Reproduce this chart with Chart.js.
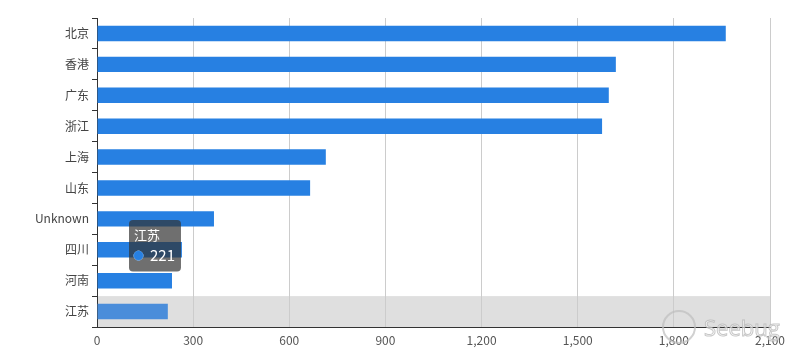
<!DOCTYPE html>
<html>
<head>
<meta charset="utf-8">
<script src="https://cdn.jsdelivr.net/npm/chart.js@4"></script>
<style>
html,body{margin:0;padding:0;background:#fff;}
#wrap{position:relative;width:808px;height:357px;}
#wm{position:absolute;left:660px;top:308px;width:140px;height:40px;pointer-events:none;}
#wm .ring{position:absolute;left:2px;top:2px;width:30px;height:30px;border:2px solid rgba(190,190,190,0.7);border-radius:50%;}
#wm .txt{position:absolute;left:44px;top:4px;font:22px "Open Sans",sans-serif;color:rgba(255,255,255,0.6);-webkit-text-stroke:1px rgba(180,180,180,0.75);letter-spacing:0px;}
</style>
</head>
<body>
<div id="wrap">
<canvas id="c" width="808" height="357"></canvas>
<div id="wm"><div class="ring"></div><div class="txt">Seebug</div></div>
</div>
<script>
const categories = ['北京','香港','广东','浙江','上海','山东','Unknown','四川','河南','江苏'];
const values = [1962, 1619, 1597, 1576, 714, 665, 365, 265, 234, 221];
const xTicks = [0, 300, 600, 900, 1200, 1500, 1800, 2100];
const hoverIndex = 9;

const FONT = '"Noto Sans CJK SC", "Noto Sans", sans-serif';

const shadowPlugin = {
  id: 'shadowBand',
  beforeDraw(chart) {
    const {ctx, chartArea, scales} = chart;
    const y = scales.y;
    const step = (chartArea.bottom - chartArea.top) / categories.length;
    const cy = y.getPixelForValue(hoverIndex);
    ctx.save();
    ctx.fillStyle = '#dfdfdf';
    ctx.fillRect(chartArea.left, cy - step / 2, chartArea.right - chartArea.left, step);
    ctx.restore();
  }
};

Chart.Tooltip.positioners.fixedSpot = function(elements) {
  const ca = this.chart.chartArea;
  return {x: ca.left + 32, y: ca.top + 202};
};

const chart = new Chart(document.getElementById('c'), {
  type: 'bar',
  data: {
    labels: categories,
    datasets: [{
      data: values,
      backgroundColor: categories.map((c, i) => i === hoverIndex ? '#4a8dda' : '#2780e2'),
      hoverBackgroundColor: '#4a8dda',
      borderWidth: 0,
      barPercentage: 0.5,
      categoryPercentage: 1.0
    }]
  },
  options: {
    indexAxis: 'y',
    responsive: false,
    animation: false,
    events: [],
    layout: {padding: {top: 18, right: 38, left: 0, bottom: 0}},
    plugins: {
      legend: {display: false},
      tooltip: {
        enabled: true,
        position: 'fixedSpot',
        xAlign: 'left',
        yAlign: 'top',
        caretSize: 0,
        caretPadding: 0,
        backgroundColor: 'rgba(50,50,50,0.7)',
        cornerRadius: 4,
        padding: {left: 5, right: 6, top: 7, bottom: 7},
        titleFont: {family: FONT, size: 13, weight: 'normal'},
        titleColor: '#fff',
        titleMarginBottom: 4,
        bodyFont: {family: FONT, size: 15},
        bodyColor: '#fff',
        usePointStyle: true,
        boxWidth: 9,
        boxHeight: 9,
        boxPadding: 5,
        callbacks: {
          label: (ctx) => String(ctx.parsed.x),
          labelPointStyle: () => ({pointStyle: 'circle', rotation: 0}),
          labelColor: () => ({borderColor: '#2780e2', backgroundColor: '#2780e2', borderWidth: 0})
        }
      }
    },
    scales: {
      x: {
        min: 0,
        max: 2100,
        afterBuildTicks: (s) => { s.ticks = xTicks.map(v => ({value: v})); },
        afterFit: (s) => { s.height = 30; },
        grid: {color: '#cccccc', drawTicks: false, lineWidth: 1},
        border: {display: true, color: '#333', width: 1},
        ticks: {
          color: '#555',
          font: {family: FONT, size: 12},
          padding: 6,
          callback: (v) => v.toLocaleString('en-US')
        }
      },
      y: {
        afterFit: (s) => { s.width = 97; },
        grid: {drawOnChartArea: false, drawTicks: true, tickLength: 5, offset: true, color: '#333'},
        border: {display: true, color: '#333', width: 1},
        ticks: {color: '#444', font: {family: FONT, size: 12}, padding: 3}
      }
    }
  },
  plugins: [shadowPlugin]
});

Chart.Tooltip.positioners.fixedSpot = function(elements) {
  const ca = this.chart.chartArea;
  return {x: ca.left + 36, y: ca.top + 202};
};
chart.setActiveElements([{datasetIndex: 0, index: hoverIndex}]);
chart.tooltip.setActiveElements([{datasetIndex: 0, index: hoverIndex}], {x: 0, y: 0});
chart.update();
</script>
</body>
</html>
